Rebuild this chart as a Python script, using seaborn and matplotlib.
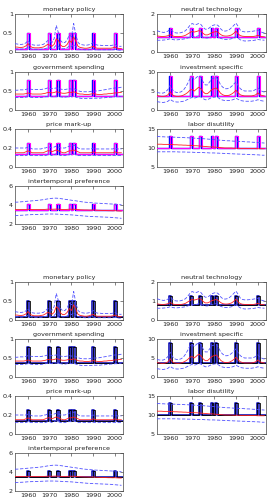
import numpy as np
import pandas as pd
import seaborn as sns
import matplotlib
matplotlib.use("Agg")
import matplotlib.pyplot as plt

sns.set_style("white")
plt.rcParams['font.family'] = ['DejaVu Sans']

# annual grid 1954..2003
years = np.arange(1954, 2004)

# high-volatility regime dates
regimes_a = [(1959.75, 1960.75), (1969.25, 1970.5), (1973.0, 1974.5), (1979.0, 1979.75),
             (1980.5, 1982.0), (1989.75, 1990.75), (1999.75, 2000.75)]
regimes_b = [(1959.5, 1960.5), (1969.0, 1970.0), (1973.25, 1974.25), (1978.75, 1979.75),
             (1980.25, 1981.5), (1989.5, 1990.5), (1999.5, 2000.5)]

titles = ["monetary policy", "neutral technology", "government spending", "investment specific",
          "price mark-up", "labor disutility", "intertemporal preference"]
ylims = [(0, 1), (0, 2), (0, 1), (0, 10), (0, 0.4), (5, 15), (2, 6)]
yticks = [[0, 0.5, 1], [0, 1, 2], [0, 0.5, 1], [0, 5, 10], [0, 0.2, 0.4], [5, 10, 15], [2, 4, 6]]
step_low = [0.09, 0.78, 0.38, 3.6, 0.135, 10.0, 3.45]
step_high = [0.5, 1.27, 0.8, 8.9, 0.255, 13.1, 4.07]

mp_med = [0.13, 0.13, 0.12, 0.12, 0.13, 0.16, 0.22, 0.15, 0.12, 0.11, 0.11, 0.11, 0.12, 0.13,
          0.16, 0.2, 0.18, 0.15, 0.2, 0.35, 0.3, 0.18, 0.14, 0.15, 0.2, 0.3, 0.25, 0.4, 0.28, 0.15,
          0.12, 0.11, 0.1, 0.1, 0.11, 0.13, 0.15, 0.11, 0.1, 0.1, 0.1, 0.1, 0.1, 0.1, 0.1,
          0.11, 0.13, 0.1, 0.09, 0.09]
mp_up = [0.22, 0.21, 0.2, 0.2, 0.21, 0.24, 0.3, 0.22, 0.19, 0.18, 0.18, 0.18, 0.19, 0.2,
         0.24, 0.3, 0.28, 0.25, 0.35, 0.7, 0.5, 0.3, 0.24, 0.25, 0.32, 0.45, 0.4, 0.75, 0.45, 0.25,
         0.2, 0.19, 0.18, 0.18, 0.19, 0.21, 0.25, 0.2, 0.18, 0.18, 0.17, 0.17, 0.17, 0.17, 0.17,
         0.18, 0.2, 0.16, 0.15, 0.15]
mp_lo = [0.08, 0.08, 0.075, 0.075, 0.08, 0.09, 0.12, 0.09, 0.07, 0.07, 0.07, 0.07, 0.07, 0.08,
         0.09, 0.11, 0.1, 0.09, 0.12, 0.18, 0.15, 0.1, 0.08, 0.09, 0.11, 0.16, 0.14, 0.2, 0.15, 0.09,
         0.07, 0.07, 0.06, 0.06, 0.06, 0.07, 0.08, 0.06, 0.06, 0.06, 0.06, 0.06, 0.06, 0.06, 0.06,
         0.06, 0.07, 0.06, 0.05, 0.05]

nt_med = [0.85, 0.83, 0.82, 0.82, 0.83, 0.86, 0.92, 0.85, 0.82, 0.81, 0.81, 0.82, 0.84, 0.88,
          0.95, 1.02, 1.08, 1.05, 1.08, 1.12, 1.1, 0.98, 0.9, 0.9, 0.95, 1.02, 1.05, 1.08, 1.02, 0.92,
          0.86, 0.84, 0.84, 0.86, 0.9, 0.98, 1.1, 0.95, 0.86, 0.83, 0.82, 0.82, 0.82, 0.82, 0.82,
          0.84, 0.88, 0.83, 0.81, 0.8]
nt_up = [1.12, 1.08, 1.05, 1.03, 1.05, 1.1, 1.2, 1.1, 1.02, 1.0, 1.0, 1.02, 1.06, 1.12,
         1.25, 1.4, 1.5, 1.45, 1.45, 1.5, 1.45, 1.3, 1.2, 1.2, 1.28, 1.38, 1.42, 1.45, 1.38, 1.22,
         1.12, 1.1, 1.12, 1.18, 1.28, 1.4, 1.52, 1.35, 1.15, 1.08, 1.06, 1.06, 1.07, 1.08, 1.1,
         1.12, 1.15, 1.08, 1.03, 1.0]
nt_lo = [0.62, 0.62, 0.62, 0.63, 0.64, 0.66, 0.7, 0.66, 0.64, 0.64, 0.65, 0.66, 0.68, 0.7,
         0.74, 0.78, 0.82, 0.8, 0.82, 0.86, 0.85, 0.78, 0.74, 0.74, 0.78, 0.82, 0.84, 0.86, 0.8, 0.72,
         0.68, 0.66, 0.66, 0.67, 0.7, 0.74, 0.8, 0.72, 0.64, 0.6, 0.58, 0.58, 0.59, 0.6, 0.61,
         0.63, 0.66, 0.64, 0.63, 0.62]

gs_med = [0.42, 0.42, 0.42, 0.42, 0.42, 0.43, 0.45, 0.43, 0.42, 0.42, 0.42, 0.42, 0.42, 0.43,
          0.44, 0.46, 0.46, 0.45, 0.46, 0.48, 0.47, 0.45, 0.44, 0.44, 0.45, 0.47, 0.46, 0.48, 0.46, 0.43,
          0.42, 0.42, 0.41, 0.41, 0.41, 0.42, 0.43, 0.42, 0.41, 0.41, 0.41, 0.42, 0.42, 0.43, 0.43,
          0.44, 0.45, 0.45, 0.46, 0.46]
gs_up = [0.52, 0.52, 0.53, 0.53, 0.53, 0.54, 0.56, 0.55, 0.54, 0.54, 0.54, 0.54, 0.54, 0.55,
         0.56, 0.58, 0.57, 0.56, 0.57, 0.58, 0.57, 0.55, 0.54, 0.54, 0.55, 0.56, 0.55, 0.56, 0.54, 0.51,
         0.49, 0.48, 0.48, 0.48, 0.48, 0.49, 0.5, 0.5, 0.5, 0.51, 0.52, 0.53, 0.54, 0.55, 0.56,
         0.57, 0.58, 0.58, 0.59, 0.6]
gs_lo = [0.33, 0.33, 0.33, 0.33, 0.33, 0.34, 0.35, 0.34, 0.33, 0.33, 0.33, 0.33, 0.33, 0.34,
         0.35, 0.36, 0.36, 0.35, 0.36, 0.37, 0.36, 0.35, 0.34, 0.34, 0.35, 0.36, 0.35, 0.36, 0.34, 0.32,
         0.31, 0.3, 0.3, 0.3, 0.3, 0.3, 0.31, 0.31, 0.31, 0.31, 0.32, 0.32, 0.33, 0.33, 0.34,
         0.34, 0.35, 0.35, 0.36, 0.36]

is_med = [3.8, 3.7, 3.6, 3.6, 3.7, 4.0, 4.8, 4.0, 3.7, 3.6, 3.6, 3.7, 3.9, 4.2,
          4.6, 5.2, 5.4, 5.0, 5.5, 6.0, 5.6, 4.8, 4.3, 4.3, 4.8, 5.4, 5.6, 5.8, 5.2, 4.4,
          4.0, 3.8, 3.8, 3.9, 4.2, 4.6, 5.2, 4.5, 4.0, 3.8, 3.7, 3.7, 3.7, 3.7, 3.8,
          4.0, 4.5, 4.0, 3.8, 3.7]
is_up = [4.6, 4.5, 4.4, 4.5, 4.8, 5.4, 6.5, 5.4, 4.8, 4.6, 4.6, 4.8, 5.2, 6.0,
         7.0, 8.2, 8.6, 8.0, 8.6, 9.0, 8.6, 7.4, 6.6, 6.6, 7.4, 8.2, 8.4, 8.6, 7.8, 6.6,
         6.0, 5.6, 5.6, 5.8, 6.2, 6.8, 7.4, 6.4, 5.6, 5.2, 5.0, 5.0, 5.0, 5.0, 5.1,
         5.4, 5.8, 5.2, 4.9, 4.7]
is_lo = [2.2, 2.1, 2.0, 2.0, 2.1, 2.3, 2.8, 2.4, 2.2, 2.1, 2.1, 2.2, 2.3, 2.5,
         2.8, 3.1, 3.3, 3.1, 3.3, 3.6, 3.4, 3.0, 2.7, 2.7, 3.0, 3.3, 3.4, 3.5, 3.2, 2.8,
         2.6, 2.5, 2.5, 2.5, 2.6, 2.8, 3.1, 2.8, 2.5, 2.4, 2.3, 2.3, 2.3, 2.3, 2.4,
         2.5, 2.7, 2.5, 2.4, 2.3]

pm_med = [0.15, 0.15, 0.15, 0.15, 0.15, 0.16, 0.17, 0.16, 0.15, 0.15, 0.15, 0.15, 0.15, 0.15,
          0.16, 0.17, 0.17, 0.16, 0.17, 0.18, 0.17, 0.16, 0.15, 0.15, 0.16, 0.17, 0.17, 0.18, 0.17, 0.16,
          0.15, 0.15, 0.15, 0.15, 0.15, 0.15, 0.16, 0.15, 0.15, 0.15, 0.15, 0.15, 0.15, 0.15, 0.15,
          0.15, 0.16, 0.15, 0.15, 0.15]
pm_up = [0.2, 0.2, 0.2, 0.2, 0.2, 0.2, 0.21, 0.2, 0.19, 0.19, 0.19, 0.19, 0.19, 0.2,
         0.2, 0.21, 0.21, 0.2, 0.21, 0.22, 0.21, 0.2, 0.2, 0.2, 0.21, 0.22, 0.22, 0.23, 0.22, 0.2,
         0.19, 0.19, 0.19, 0.19, 0.19, 0.19, 0.2, 0.19, 0.19, 0.19, 0.19, 0.19, 0.19, 0.19, 0.19,
         0.19, 0.2, 0.19, 0.19, 0.19]
pm_lo = [0.12, 0.12, 0.12, 0.12, 0.12, 0.12, 0.13, 0.12, 0.12, 0.12, 0.12, 0.12, 0.12, 0.12,
         0.12, 0.13, 0.13, 0.12, 0.13, 0.14, 0.13, 0.12, 0.12, 0.12, 0.13, 0.13, 0.13, 0.14, 0.13, 0.12,
         0.12, 0.12, 0.12, 0.12, 0.12, 0.12, 0.12, 0.12, 0.12, 0.12, 0.12, 0.12, 0.12, 0.12, 0.12,
         0.12, 0.12, 0.12, 0.12, 0.12]

ld_med = [11.0, 11.0, 11.0, 10.95, 10.95, 10.95, 10.9, 10.9, 10.85, 10.85, 10.8, 10.8, 10.75, 10.75,
          10.7, 10.7, 10.65, 10.6, 10.6, 10.55, 10.5, 10.45, 10.4, 10.35, 10.3, 10.3, 10.25, 10.2, 10.15, 10.1,
          10.05, 10.0, 10.0, 10.0, 10.0, 9.95, 9.95, 9.95, 9.9, 9.9, 9.9, 9.9, 9.85, 9.85, 9.85,
          9.85, 9.8, 9.8, 9.8, 9.8]
ld_up = [13.0, 13.0, 12.95, 12.95, 12.9, 12.9, 12.9, 12.85, 12.85, 12.8, 12.8, 12.75, 12.75, 12.7,
         12.7, 12.65, 12.6, 12.6, 12.55, 12.5, 12.5, 12.45, 12.4, 12.35, 12.3, 12.25, 12.2, 12.15, 12.1, 12.05,
         12.0, 11.95, 11.9, 11.9, 11.85, 11.8, 11.8, 11.75, 11.7, 11.7, 11.65, 11.6, 11.6, 11.55, 11.5,
         11.5, 11.45, 11.4, 11.35, 11.3]
ld_lo = [9.0, 9.0, 9.0, 9.0, 9.0, 9.0, 9.0, 9.0, 9.0, 9.0, 8.95, 8.95, 8.95, 8.95,
         8.9, 8.9, 8.9, 8.85, 8.85, 8.8, 8.8, 8.8, 8.75, 8.75, 8.7, 8.7, 8.7, 8.65, 8.65, 8.6,
         8.6, 8.55, 8.55, 8.5, 8.5, 8.45, 8.45, 8.4, 8.4, 8.35, 8.35, 8.3, 8.3, 8.25, 8.25,
         8.2, 8.2, 8.15, 8.1, 8.1]

ip_med = [3.52, 3.52, 3.52, 3.52, 3.52, 3.53, 3.55, 3.53, 3.52, 3.52, 3.52, 3.52, 3.52, 3.53,
          3.54, 3.56, 3.56, 3.55, 3.56, 3.57, 3.56, 3.54, 3.53, 3.53, 3.54, 3.56, 3.55, 3.56, 3.54, 3.52,
          3.5, 3.49, 3.48, 3.48, 3.47, 3.47, 3.48, 3.46, 3.45, 3.44, 3.43, 3.42, 3.41, 3.4, 3.4,
          3.39, 3.4, 3.38, 3.37, 3.36]
ip_up = [4.3, 4.3, 4.32, 4.34, 4.36, 4.38, 4.4, 4.42, 4.44, 4.46, 4.48, 4.5, 4.53, 4.56,
         4.6, 4.64, 4.68, 4.7, 4.72, 4.72, 4.7, 4.67, 4.64, 4.6, 4.57, 4.54, 4.5, 4.47, 4.44, 4.4,
         4.36, 4.33, 4.3, 4.28, 4.26, 4.24, 4.22, 4.2, 4.19, 4.18, 4.16, 4.15, 4.14, 4.12, 4.11,
         4.1, 4.08, 4.06, 4.04, 4.02]
ip_lo = [2.9, 2.9, 2.91, 2.92, 2.93, 2.95, 2.97, 2.98, 2.99, 3.0, 3.0, 3.01, 3.02, 3.03,
         3.04, 3.05, 3.05, 3.05, 3.05, 3.04, 3.03, 3.02, 3.0, 2.99, 2.98, 2.97, 2.96, 2.94, 2.92, 2.9,
         2.88, 2.86, 2.84, 2.82, 2.8, 2.79, 2.78, 2.77, 2.76, 2.75, 2.74, 2.73, 2.72, 2.71, 2.7,
         2.68, 2.66, 2.64, 2.62, 2.6]

medians = [mp_med, nt_med, gs_med, is_med, pm_med, ld_med, ip_med]
uppers = [mp_up, nt_up, gs_up, is_up, pm_up, ld_up, ip_up]
lowers = [mp_lo, nt_lo, gs_lo, is_lo, pm_lo, ld_lo, ip_lo]

quarters = np.arange(1954, 2003.76, 0.25)


def regime_path(regimes, low, high):
    s = np.full(len(quarters), low)
    for a, b in regimes:
        s[(quarters >= a - 1e-9) & (quarters < b - 1e-9)] = high
    return s


W, H = 271, 503
col_left = [15, 157]
col_w = [108, 109]
fig_tops = [[14, 72, 129, 186], [282, 339, 396, 453]]
ax_h = 38

# (under colour, under width, over colour, over width) for each half
step_styles = [("#0000ff", 1.0, "#ff00ff", 0.8), ("#0000b0", 1.1, "#000000", 0.6)]

fig = plt.figure(figsize=(W / 100, H / 100), dpi=100)

for f, tops in enumerate(fig_tops):
    c_under, w_under, c_over, w_over = step_styles[f]
    for i in range(7):
        r, c = divmod(i, 2)
        ax = fig.add_axes([col_left[c] / W, 1 - (tops[r] + ax_h) / H, col_w[c] / W, ax_h / H])
        df = pd.DataFrame({"year": years, "med": medians[i], "up": uppers[i], "lo": lowers[i]})
        sb = regime_path(regimes_b, step_low[i], step_high[i])
        sa = regime_path(regimes_a, step_low[i], step_high[i])
        ax.plot(quarters, sb, color=c_under, lw=w_under, drawstyle="steps-post", zorder=2)
        ax.plot(quarters, sa, color=c_over, lw=w_over, drawstyle="steps-post", zorder=3)
        sns.lineplot(data=df, x="year", y="med", ax=ax, color="#ff2020", lw=0.6, zorder=4)
        sns.lineplot(data=df, x="year", y="up", ax=ax, color="#5050ff", lw=0.6, zorder=4,
                     linestyle=(0, (4, 2)))
        sns.lineplot(data=df, x="year", y="lo", ax=ax, color="#5050ff", lw=0.6, zorder=4,
                     linestyle=(0, (4, 2)))
        ax.set_xlim(1954, 2003.7)
        ax.set_ylim(*ylims[i])
        ax.set_xticks([1960, 1970, 1980, 1990, 2000])
        ax.set_yticks(yticks[i])
        ax.set_yticklabels([f"{v:g}" for v in yticks[i]])
        ax.set_xlabel("")
        ax.set_ylabel("")
        ax.set_title(titles[i], fontsize=4.6, pad=2.5, color="#222222")
        ax.tick_params(direction="in", length=2, width=0.4, labelsize=4.6, pad=1.5,
                       top=True, right=True, colors="#222222")
        for sp in ax.spines.values():
            sp.set_linewidth(0.5)
            sp.set_color("#444444")

fig.savefig("out.png", dpi=100)
